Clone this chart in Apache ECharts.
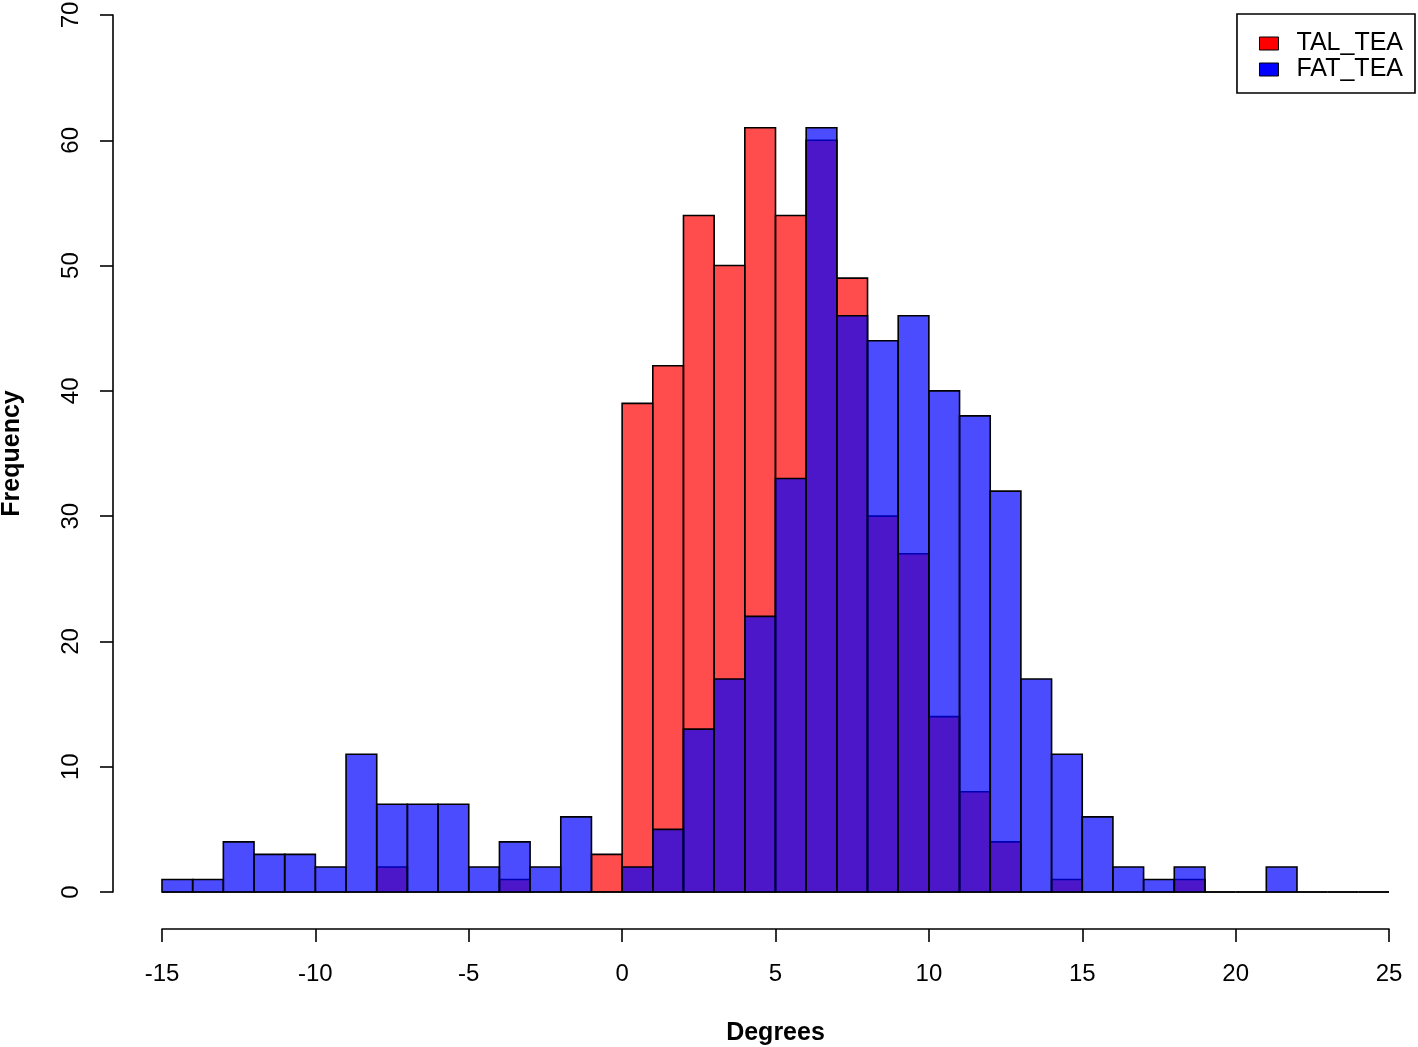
<!DOCTYPE html>
<html>
<head>
<meta charset="utf-8">
<script src="https://cdn.jsdelivr.net/npm/echarts@6/dist/echarts.min.js"></script>
<style>
html,body{margin:0;padding:0;background:#fff;}
#chart{width:1418px;height:1047px;}
</style>
</head>
<body>
<div id="chart"></div>
<script>
// Bin left edges (width 1 degree)
var binStarts = [-15,-14,-13,-12,-11,-10,-9,-8,-7,-6,-5,-4,-3,-2,-1,0,1,2,3,4,5,6,7,8,9,10,11,12,13,14,15,16,17,18,19,20,21,22,23,24];
var binWidth = 1;
var talTea = [0,0,0,0,0,0,0,2,0,0,0,1,0,0,3,39,42,54,50,61,54,60,49,30,27,14,8,4,0,1,0,0,0,1,0,0,0,0,0,0];
var fatTea = [1,1,4,3,3,2,11,7,7,7,2,4,2,6,0,2,5,13,17,22,33,61,46,44,46,40,38,32,17,11,6,2,1,2,0,0,2,0,0,0];
var xTicks = [-15,-10,-5,0,5,10,15,20,25];
var yTicks = [0,10,20,30,40,50,60,70];

function toRows(counts){
  return binStarts.map(function(s,i){ return [s, s + binWidth, counts[i]]; });
}
function makeRender(fill){
  return function(params, api){
    var p0 = api.coord([api.value(0), api.value(2)]);
    var p1 = api.coord([api.value(1), 0]);
    return {
      type:'rect',
      shape:{x:p0[0], y:p0[1], width:p1[0]-p0[0], height:p1[1]-p0[1]},
      style:{fill:fill, stroke:'#000', lineWidth:1.6}
    };
  };
}
var FONT = '"Liberation Sans", Arial, sans-serif';
var chart = echarts.init(document.getElementById('chart'), null, {renderer:'canvas'});
chart.setOption({
  animation:false,
  backgroundColor:'#fff',
  grid:{left:162, right:29, top:15, bottom:155, containLabel:false, outerBoundsMode:'none'},
  xAxis:{
    type:'value', min:-15, max:25, interval:5, offset:37,
    name:'Degrees', nameLocation:'middle', nameGap:92,
    nameTextStyle:{fontFamily:FONT, fontSize:25, fontWeight:'bold', color:'#000'},
    axisLine:{show:true, onZero:false, lineStyle:{color:'#000', width:1.6}},
    axisTick:{show:true, length:13, lineStyle:{color:'#000', width:1.6}},
    axisLabel:{margin:33, fontFamily:FONT, fontSize:24, color:'#000',
      formatter:function(v){ return xTicks.indexOf(v) >= 0 ? String(v) : ''; }},
    splitLine:{show:false}
  },
  yAxis:{
    type:'value', min:0, max:70, interval:10, offset:49,
    name:'Frequency', nameLocation:'middle', nameGap:88,
    nameTextStyle:{fontFamily:FONT, fontSize:25, fontWeight:'bold', color:'#000'},
    axisLine:{show:true, onZero:false, lineStyle:{color:'#000', width:1.6}},
    axisTick:{show:true, length:13, lineStyle:{color:'#000', width:1.6}},
    axisLabel:{margin:30, rotate:90, fontFamily:FONT, fontSize:24, color:'#000',
      formatter:function(v){ return yTicks.indexOf(v) >= 0 ? String(v) : ''; }},
    splitLine:{show:false}
  },
  legend:{
    orient:'vertical', right:3, top:14,
    padding:[17,12,11,22],
    itemGap:1, itemWidth:19, itemHeight:13, icon:'rect',
    borderColor:'#000', borderWidth:1.6,
    textStyle:{fontFamily:FONT, fontSize:25, color:'#000', padding:[0,0,0,13], lineHeight:25},
    data:[
      {name:'TAL_TEA', itemStyle:{color:'#ff0000', borderColor:'#000', borderWidth:1}},
      {name:'FAT_TEA', itemStyle:{color:'#0000ff', borderColor:'#000', borderWidth:1}}
    ]
  },
  series:[
    {name:'TAL_TEA', type:'custom', renderItem:makeRender('rgba(255,0,0,0.7)'),
     itemStyle:{color:'#ff0000'}, encode:{x:[0,1], y:2}, data:toRows(talTea), z:2},
    {name:'FAT_TEA', type:'custom', renderItem:makeRender('rgba(0,0,255,0.7)'),
     itemStyle:{color:'#0000ff'}, encode:{x:[0,1], y:2}, data:toRows(fatTea), z:3}
  ]
});
</script>
</body>
</html>
